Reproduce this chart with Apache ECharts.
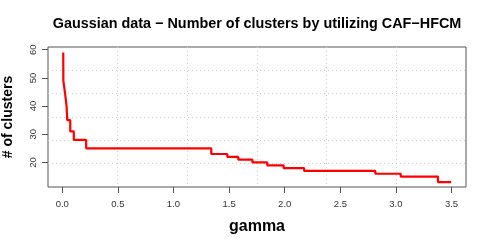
<!DOCTYPE html>
<html>
<head>
<meta charset="utf-8">
<script src="https://cdn.jsdelivr.net/npm/echarts@6/dist/echarts.min.js"></script>
<style>html,body{margin:0;padding:0;background:#fff}#c{width:491px;height:247px}</style>
</head>
<body>
<div id="c"></div>
<script>
// gamma value at which each cluster-count level begins (last entry = end of curve)
var gammaSteps = [0.009, 0.010, 0.027, 0.039, 0.045, 0.072, 0.104, 0.215, 1.34, 1.484, 1.583, 1.71, 1.843, 1.99, 2.175, 2.815, 3.043, 3.378, 3.497];
var clusterCounts = [59, 49, 44, 40, 35, 31, 28, 25, 23, 22, 21, 20, 19, 18, 17, 16, 15, 13, 13];
var xTicks = [0, 0.5, 1, 1.5, 2, 2.5, 3, 3.5];
var yTicks = [20, 30, 40, 50, 60];

var data = gammaSteps.map(function (g, i) { return [g, clusterCounts[i]]; });
var font = '"Liberation Sans", Arial, Helvetica, sans-serif';
var chart = echarts.init(document.getElementById('c'), null, { renderer: 'canvas' });
var gridDots = { show: true, showMinLine: false, showMaxLine: false, lineStyle: { color: '#cfcfcf', type: [1, 3], width: 1 } };
chart.setOption({
  animation: false,
  graphic: [{
    type: 'text', x: 257, y: 24,
    style: { text: 'Gaussian data \u2212 Number of clusters by utilizing CAF\u2212HFCM', font: 'bold 14.4px ' + font, fill: '#000', textAlign: 'center', textVerticalAlign: 'middle' }
  }],
  grid: { left: 48, right: 25, top: 47, bottom: 60, show: true, borderColor: '#555', borderWidth: 1, containLabel: false, outerBoundsMode: 'none' },
  xAxis: [{
    type: 'value', min: -0.128, max: 3.63,
    name: 'gamma', nameLocation: 'middle', nameGap: 32,
    nameTextStyle: { fontFamily: font, fontWeight: 'bold', fontSize: 16, color: '#000' },
    axisLine: { show: false, onZero: false },
    axisTick: { show: true, length: 6, customValues: xTicks, lineStyle: { color: '#555' } },
    axisLabel: { customValues: xTicks, fontFamily: font, fontSize: 9.5, color: '#333', margin: 12,
      formatter: function (v) { return v.toFixed(1); } },
    splitLine: { show: false }
  }, {
    type: 'value', min: 0, max: 6, interval: 1, position: 'top',
    axisLine: { show: false, onZero: false }, axisTick: { show: false }, axisLabel: { show: false },
    splitLine: gridDots
  }],
  yAxis: [{
    type: 'value', min: 11.3, max: 60.95,
    name: '# of clusters', nameLocation: 'middle', nameGap: 33,
    nameTextStyle: { fontFamily: font, fontWeight: 'bold', fontSize: 14, color: '#000' },
    axisLine: { show: false, onZero: false },
    axisTick: { show: true, length: 6, customValues: yTicks, lineStyle: { color: '#555' } },
    axisLabel: { customValues: yTicks, rotate: 90, fontFamily: font, fontSize: 9.5, color: '#333', margin: 10 },
    splitLine: { show: false }
  }, {
    type: 'value', min: 0, max: 6, interval: 1, position: 'right',
    axisLine: { show: false, onZero: false }, axisTick: { show: false }, axisLabel: { show: false },
    splitLine: gridDots
  }],
  series: [{
    type: 'line', step: 'end', data: data, xAxisIndex: 0, yAxisIndex: 0,
    showSymbol: false, symbol: 'none',
    lineStyle: { color: '#ff0000', width: 2.2 }
  }]
});
</script>
</body>
</html>
